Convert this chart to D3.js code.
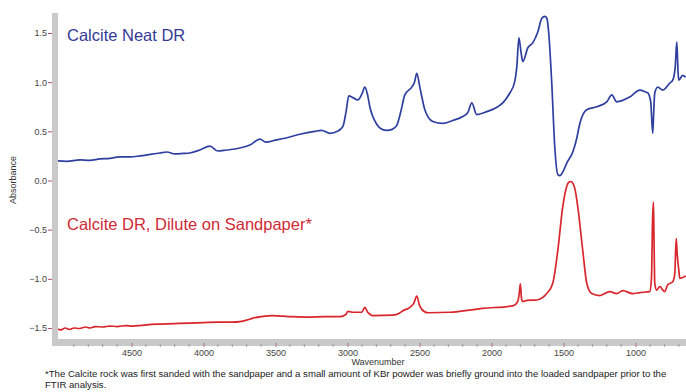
<!DOCTYPE html>
<html>
<head>
<meta charset="utf-8">
<script src="https://cdn.jsdelivr.net/npm/d3@7"></script>
<style>
  html, body { margin: 0; padding: 0; background: #fff; }
  svg { display: block; font-family: "Liberation Sans", Arial, sans-serif; }
</style>
</head>
<body>
<svg id="chart" width="686" height="392"></svg>
<script>
// FTIR diffuse-reflectance spectra of calcite (wavenumber in cm-1, absorbance)
const neatWavenumber = [5010, 4950, 4857, 4790, 4719, 4650, 4580, 4510, 4441, 4370, 4302, 4254, 4198, 4140, 4094, 4025, 3955, 3900, 3840, 3782, 3678, 3608, 3567, 3500, 3435, 3331, 3227, 3180, 3122, 3070, 3032, 3010, 2991, 2960, 2928, 2900, 2880, 2862, 2845, 2796, 2760, 2727, 2690, 2658, 2630, 2602, 2554, 2535, 2519, 2498, 2463, 2408, 2338, 2270, 2200, 2165, 2137, 2103, 2033, 1957, 1922, 1873, 1840, 1825, 1810, 1795, 1783, 1748, 1714, 1679, 1651, 1630, 1616, 1603, 1582, 1561, 1540, 1525, 1512, 1477, 1436, 1410, 1387, 1339, 1269, 1200, 1165, 1131, 1040, 971, 930, 915, 895, 881, 874, 867, 846, 811, 763, 742, 725, 714, 705, 700, 673, 652];
const neatAbsorbance = [0.20, 0.195, 0.21, 0.205, 0.22, 0.225, 0.24, 0.24, 0.25, 0.265, 0.28, 0.29, 0.27, 0.275, 0.28, 0.31, 0.35, 0.30, 0.31, 0.32, 0.36, 0.42, 0.39, 0.41, 0.43, 0.47, 0.50, 0.51, 0.48, 0.50, 0.55, 0.70, 0.86, 0.84, 0.82, 0.88, 0.95, 0.88, 0.75, 0.57, 0.52, 0.51, 0.52, 0.56, 0.70, 0.87, 0.95, 1.00, 1.09, 0.95, 0.72, 0.60, 0.58, 0.61, 0.65, 0.69, 0.79, 0.67, 0.70, 0.75, 0.79, 0.89, 1.00, 1.15, 1.45, 1.30, 1.21, 1.35, 1.40, 1.51, 1.65, 1.67, 1.65, 1.50, 0.99, 0.34, 0.06, 0.05, 0.07, 0.18, 0.29, 0.42, 0.58, 0.72, 0.75, 0.80, 0.87, 0.80, 0.85, 0.92, 0.90, 0.89, 0.80, 0.48, 0.70, 0.89, 0.95, 0.92, 0.99, 1.02, 1.15, 1.41, 1.10, 1.02, 1.07, 1.05];

const diluteWavenumber = [5010, 4990, 4960, 4930, 4900, 4860, 4820, 4788, 4750, 4700, 4650, 4600, 4540, 4490, 4441, 4380, 4300, 4200, 4094, 4000, 3900, 3800, 3747, 3700, 3657, 3600, 3518, 3450, 3400, 3282, 3150, 3053, 3010, 2998, 2963, 2900, 2880, 2860, 2845, 2824, 2685, 2640, 2616, 2567, 2540, 2519, 2500, 2484, 2442, 2290, 2061, 1852, 1818, 1808, 1800, 1792, 1783, 1755, 1686, 1617, 1575, 1540, 1506, 1478, 1465, 1450, 1435, 1422, 1401, 1367, 1339, 1304, 1249, 1179, 1131, 1089, 1020, 971, 902, 890, 882, 876, 872, 867, 853, 832, 798, 777, 742, 728, 718, 711, 700, 693, 652];
const diluteAbsorbance = [-1.51, -1.52, -1.50, -1.515, -1.50, -1.505, -1.49, -1.50, -1.485, -1.49, -1.48, -1.485, -1.475, -1.48, -1.475, -1.465, -1.46, -1.455, -1.45, -1.445, -1.44, -1.44, -1.435, -1.42, -1.40, -1.385, -1.375, -1.38, -1.385, -1.39, -1.385, -1.385, -1.36, -1.33, -1.34, -1.34, -1.29, -1.34, -1.36, -1.375, -1.37, -1.35, -1.325, -1.29, -1.25, -1.175, -1.27, -1.31, -1.345, -1.34, -1.30, -1.275, -1.23, -1.15, -1.05, -1.20, -1.23, -1.22, -1.215, -1.15, -1.045, -0.71, -0.27, -0.06, -0.02, -0.01, -0.03, -0.08, -0.27, -0.71, -1.045, -1.15, -1.17, -1.13, -1.15, -1.12, -1.15, -1.14, -1.13, -1.00, -0.40, -0.22, -0.60, -1.045, -1.115, -1.08, -1.13, -1.06, -1.03, -0.95, -0.59, -0.75, -0.91, -0.995, -0.97];

const xTicks = [4500, 4000, 3500, 3000, 2500, 2000, 1500, 1000];
const xMinorTicks = d3.range(4900, 600, -100);
const yTicks = [1.5, 1.0, 0.5, 0.0, -0.5, -1.0, -1.5];

const neatLabel = "Calcite Neat DR";
const diluteLabel = "Calcite DR, Dilute on Sandpaper*";
const footnote = [
  "*The Calcite rock was first sanded with the sandpaper and a small amount of KBr powder was briefly ground into the loaded sandpaper prior to the",
  "FTIR analysis."
];

const svg = d3.select("#chart");
const plot = { left: 58, right: 686, top: 13, bottom: 339 };

const x = d3.scaleLinear().domain([5010, 650]).range([plot.left, plot.right]);
const y = d3.scaleLinear().domain([1.5, -1.5]).range([33, 328]);

// grey frame on the left and bottom of the plot
const frameGrey = "#c9c9c9";
svg.append("rect").attr("x", 52).attr("y", plot.top)
  .attr("width", 6).attr("height", 333).attr("fill", frameGrey);
svg.append("rect").attr("x", 52).attr("y", plot.bottom)
  .attr("width", 686 - 52).attr("height", 7).attr("fill", frameGrey);

// x axis: major and minor ticks below the grey band
const xAxisG = svg.append("g").attr("transform", `translate(0,${plot.bottom + 6})`);
xAxisG.selectAll("line.minor").data(xMinorTicks.filter(d => xTicks.indexOf(d) < 0))
  .join("line").attr("class", "minor")
  .attr("x1", d => x(d)).attr("x2", d => x(d))
  .attr("y1", -1).attr("y2", 2)
  .attr("stroke", "#8a8a8a").attr("stroke-width", 0.8);
const xAxis = d3.axisBottom(x).tickValues(xTicks).tickSize(4).tickPadding(3).tickFormat(d3.format("d"));
xAxisG.append("g").attr("transform", "translate(0,-2)").call(xAxis)
  .call(g => g.select(".domain").remove())
  .call(g => g.selectAll(".tick line").attr("stroke", "#b07080"))
  .call(g => g.selectAll(".tick text").attr("fill", "#444").attr("font-size", 9)
    .attr("font-family", "Liberation Sans, Arial, sans-serif"));

// y axis
const yAxis = d3.axisLeft(y).tickValues(yTicks).tickSize(4).tickPadding(1).tickFormat(d3.format(".1f"));
svg.append("g").attr("transform", `translate(${52},0)`).call(yAxis)
  .call(g => g.select(".domain").remove())
  .call(g => g.selectAll(".tick line").attr("stroke", "#b05060"))
  .call(g => g.selectAll(".tick text").attr("fill", "#444").attr("font-size", 9)
    .attr("font-family", "Liberation Sans, Arial, sans-serif"));

// axis titles
svg.append("text").attr("x", 378).attr("y", 365).attr("text-anchor", "middle")
  .attr("font-size", 9).attr("fill", "#333").text("Wavenumber");
svg.append("text").attr("transform", "translate(16,180) rotate(-90)")
  .attr("text-anchor", "middle").attr("font-size", 9).attr("fill", "#333").text("Absorbance");

// spectra
svg.append("clipPath").attr("id", "plotClip")
  .append("rect").attr("x", plot.left).attr("y", 0).attr("width", plot.right - plot.left).attr("height", plot.bottom);

const line = d3.line().x(d => x(d[0])).y(d => y(d[1])).curve(d3.curveMonotoneX);
const neat = neatWavenumber.map((w, i) => [w, neatAbsorbance[i]]);
const dilute = diluteWavenumber.map((w, i) => [w, diluteAbsorbance[i]]);

const lines = svg.append("g").attr("clip-path", "url(#plotClip)");
lines.append("path").datum(neat).attr("d", line)
  .attr("fill", "none").attr("stroke", "#2f3fa0").attr("stroke-width", 1.7).attr("stroke-linejoin", "round");
lines.append("path").datum(dilute).attr("d", line)
  .attr("fill", "none").attr("stroke", "#d8262c").attr("stroke-width", 1.7).attr("stroke-linejoin", "round");

// series labels
svg.append("text").attr("x", 67).attr("y", 41).attr("font-size", 16.5)
  .attr("fill", "#343a96").text(neatLabel);
svg.append("text").attr("x", 67).attr("y", 230).attr("font-size", 16.5)
  .attr("fill", "#d02a36").text(diluteLabel);

// footnote
svg.append("g").selectAll("text").data(footnote).join("text")
  .attr("x", 45).attr("y", (d, i) => 377 + i * 11)
  .attr("font-size", 9.6).attr("fill", "#222").text(d => d);
</script>
</body>
</html>
